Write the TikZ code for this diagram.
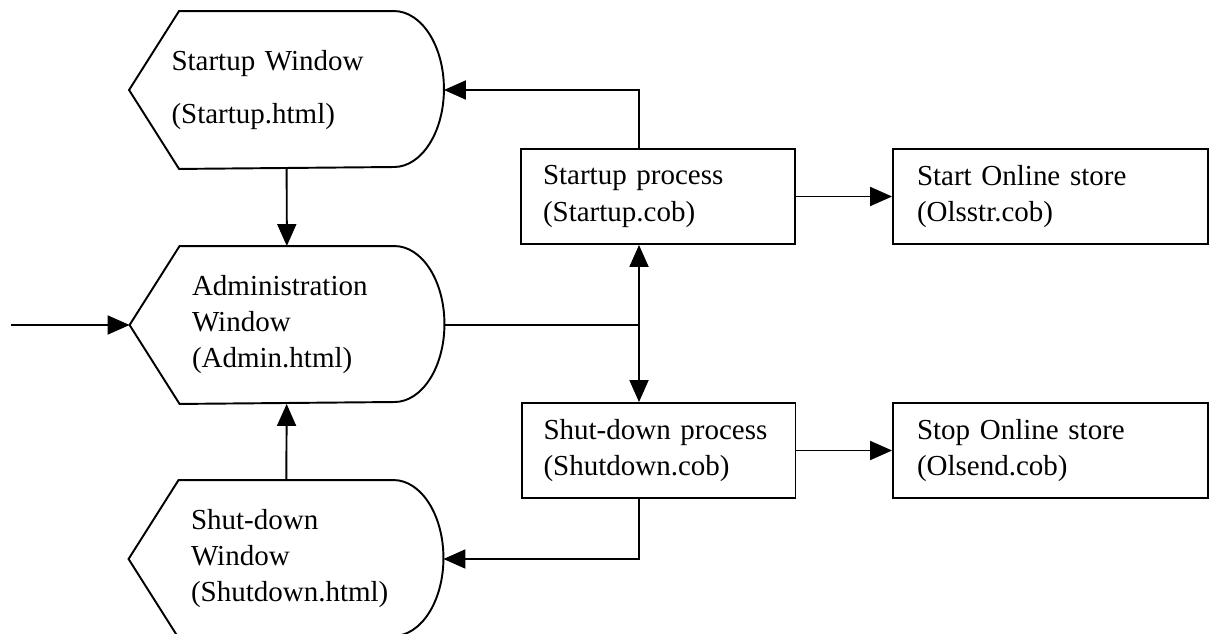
\documentclass[tikz,border=0pt]{standalone}
\usepackage{fontspec}
\setmainfont{Liberation Serif}
\usetikzlibrary{arrows.meta}

\begin{document}
\begin{tikzpicture}[
  x=0.02cm, y=-0.02cm,
  font=\fontsize{16.5}{20.5}\selectfont,
  line width=1.1pt,
  display/.style={minimum width=6.26cm, minimum height=3.12cm, inner sep=0, align=left, text width=3.8cm},
  proc/.style={draw, line width=1.1pt, minimum height=1.9cm, inner xsep=0.44cm, text width=4.6cm, align=left},
  arr/.style={-{Triangle[length=0.44cm, width=0.38cm]}}
]
\useasboundingbox (0,0) rectangle (1212,634);

\node[display, text width=4.6cm] (startwin) at (286.5,90) {Startup Window\\[10pt](Startup.html)};
\node[display] (adminwin) at (287,325) {Administration\\Window\\(Admin.html)};
\node[display] (shutwin) at (286,559) {Shut-down\\Window\\(Shutdown.html)};

\foreach \w in {startwin,adminwin,shutwin}
  \draw (\w.west) -- ([xshift=1cm]\w.north west) -- ([xshift=-1cm]\w.north east)
    arc[start angle=90, end angle=-90, x radius=1cm, y radius=1.56cm]
    -- ([xshift=1cm]\w.south west) -- cycle;

\node[proc] (startproc) at (658,196.5) {Startup process\\(Startup.cob)};
\node[proc, text width=5.34cm, inner xsep=0.48cm] (startstore) at (1050.5,196.5) {Start Online store\\(Olsstr.cob)};
\node[proc] (shutproc) at (658.5,450.5) {Shut-down process\\(Shutdown.cob)};
\node[proc, text width=5.34cm, inner xsep=0.48cm] (stopstore) at (1050.5,450.5) {Stop Online store\\(Olsend.cob)};

\coordinate (entry) at (11,325);
\coordinate (hub) at (639,325);

\draw[arr] (entry) -- (adminwin.west);
\draw[arr] (startwin) -- (adminwin);
\draw[arr] (shutwin) -- (adminwin);
\draw (adminwin.east) -- (hub);
\draw[arr] (hub) -- (hub |- startproc.south);
\draw[arr] (hub) -- (hub |- shutproc.north);
\draw[arr] (hub |- startproc.north) |- (startwin.east);
\draw[arr] (hub |- shutproc.south) |- (shutwin.east);
\draw[arr] (startproc) -- (startstore);
\draw[arr] (shutproc) -- (stopstore);
\end{tikzpicture}
\end{document}
